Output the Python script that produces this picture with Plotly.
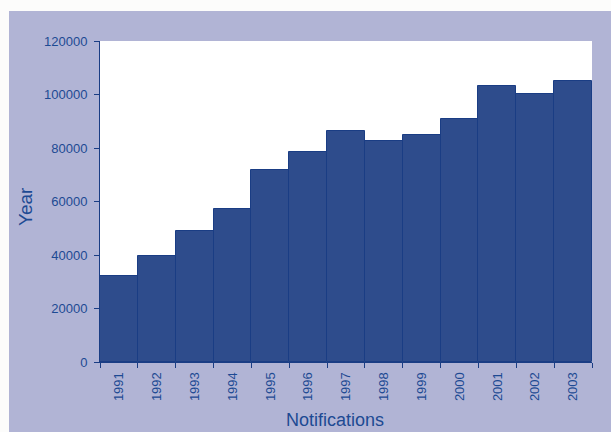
import plotly.graph_objects as go

years = ["1991", "1992", "1993", "1994", "1995", "1996", "1997",
         "1998", "1999", "2000", "2001", "2002", "2003"]
notifications = [32150, 39500, 49100, 57100, 71800, 78400, 86400,
                 82700, 84900, 91000, 103000, 100300, 105000]
y_ticks = [0, 20000, 40000, 60000, 80000, 100000, 120000]

TEXT = "#1d4a93"
BAR = "#2e4c8c"
EDGE = "#1a3d84"
LAV = "#b1b4d5"

fig = go.Figure(go.Bar(
    x=years, y=notifications,
    marker=dict(color=BAR, line=dict(color=EDGE, width=1)),
))

W, H = 611, 432
L, R, T, B = 100, 19, 41, 70
pw, ph = W - L - R, H - T - B

def px(x):
    return (x - L) / pw

def py(y):
    return (H - B - y) / ph

fig.update_layout(
    width=W, height=H,
    margin=dict(l=L, r=R, t=T, b=B),
    paper_bgcolor=LAV, plot_bgcolor="white",
    bargap=0, showlegend=False,
    font=dict(family="Liberation Sans, Arial, sans-serif", color=TEXT, size=13),
    xaxis=dict(type="category", tickson="boundaries", ticks="outside", ticklen=5,
               tickcolor=EDGE, showline=True, linecolor=EDGE, linewidth=1,
               tickangle=-90, showgrid=False, ticklabelstandoff=4,
               tickfont=dict(size=13, color=TEXT)),
    yaxis=dict(range=[0, 120000], tickvals=y_ticks, tickformat="d", ticks="outside",
               ticklen=5, tickcolor=EDGE, showline=True, linecolor=EDGE, linewidth=1,
               showgrid=False, zeroline=False, ticklabelstandoff=4,
               tickfont=dict(size=13, color=TEXT)),
    shapes=[
        dict(type="rect", xref="paper", yref="paper", x0=-1, x1=2, y0=py(11), y1=3,
             fillcolor="#fcfcfb", line=dict(width=0), layer="above"),
        dict(type="rect", xref="paper", yref="paper", x0=-1, x1=px(9), y0=-1, y1=3,
             fillcolor="#fcfcfb", line=dict(width=0), layer="above"),
    ],
    annotations=[
        dict(text="Notifications", xref="paper", yref="paper", x=px(335), y=py(420),
             xanchor="center", yanchor="middle", showarrow=False,
             font=dict(size=18, color=TEXT)),
        dict(text="Year", xref="paper", yref="paper", x=px(25), y=py(207),
             xanchor="center", yanchor="middle", showarrow=False, textangle=-90,
             font=dict(size=19, color=TEXT)),
    ],
)

fig.write_html(
    "out.html",
    config={"displayModeBar": False},
    post_script="document.body.style.margin='0';document.body.style.overflow='hidden';",
)
